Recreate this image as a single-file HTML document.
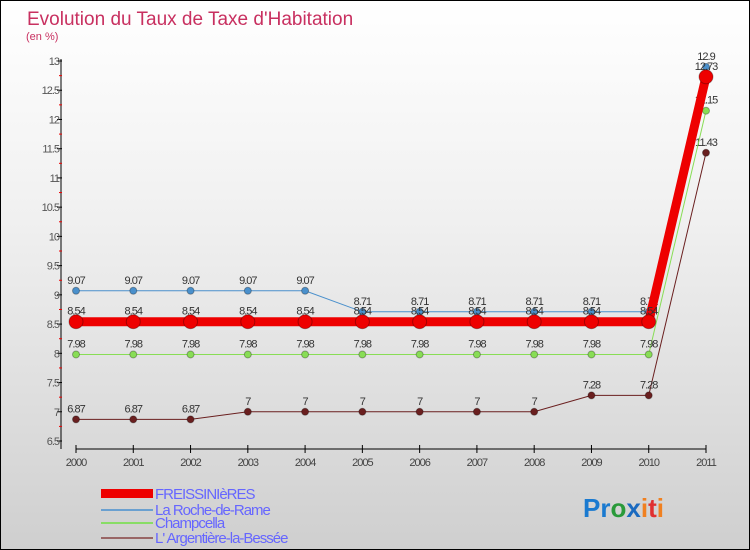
<!DOCTYPE html>
<html><head><meta charset="utf-8"><style>
body{margin:0}
#c{position:relative;width:748px;height:548px;border:1px solid #000;background:linear-gradient(#fff,#f0f0f0 40%,#cfcfcf);font-family:"Liberation Sans",sans-serif;overflow:hidden}
</style></head><body>
<div id="c">
<svg width="748" height="548" xmlns="http://www.w3.org/2000/svg" id="svg">
<text x="26" y="24" font-size="19" fill="#c83060">Evolution du Taux de Taxe d'Habitation</text>
<text x="25" y="39" font-size="11" fill="#c83060">(en %)</text>
<g id="axes"></g><g id="series"></g>
<g font-size="15" fill="#6666ff">
<rect x="100" y="488" width="52" height="9" fill="#e00"/>
<text x="154" y="498" letter-spacing="-1">FREISSINIèRES</text>
<rect x="100" y="508" width="52" height="2" fill="#6aa0d0"/>
<text x="154" y="514" letter-spacing="-1">La Roche-de-Rame</text>
<rect x="100" y="521" width="52" height="2" fill="#88dd66"/>
<text x="154" y="527" letter-spacing="-1">Champcella</text>
<rect x="100" y="536" width="52" height="2" fill="#996666"/>
<text x="154" y="542" letter-spacing="-1">L' Argentière-la-Bessée</text>
</g>
<text x="582" y="516" font-size="26" font-weight="bold"><tspan fill="#1a7ad0">Pr</tspan><tspan fill="#2a9a3a">o</tspan><tspan fill="#1a6ac0">x</tspan><tspan fill="#f08020">i</tspan><tspan fill="#e03030">t</tspan><tspan fill="#f08020">i</tspan></text>
</svg></div>
<script>
const years=[2000,2001,2002,2003,2004,2005,2006,2007,2008,2009,2010,2011];
const freiss=[8.54,8.54,8.54,8.54,8.54,8.54,8.54,8.54,8.54,8.54,8.54,12.73];
const roche=[9.07,9.07,9.07,9.07,9.07,8.71,8.71,8.71,8.71,8.71,8.71,12.9];
const champ=[7.98,7.98,7.98,7.98,7.98,7.98,7.98,7.98,7.98,7.98,7.98,12.15];
const argent=[6.87,6.87,6.87,7,7,7,7,7,7,7.28,7.28,11.43];
const yTicks=[6.5,7,7.5,8,8.5,9,9.5,10,10.5,11,11.5,12,12.5,13];
const NS="http://www.w3.org/2000/svg";
const X=i=>75+i*(630/11), Y=v=>60+(13-v)*(380/6.5);
function mk(t,a,p){const e=document.createElementNS(NS,t);for(const k in a)e.setAttribute(k,a[k]);p.appendChild(e);return e;}
const ax=document.getElementById('axes'), sg=document.getElementById('series');
let l=mk('line',{x1:60,y1:58,x2:60,y2:448,stroke:'#000'},ax);


l=mk('line',{x1:75,y1:448,x2:705,y2:448,stroke:'#000'},ax);


yTicks.forEach(v=>{const y=Y(v);mk('line',{x1:56,x2:61,y1:y,y2:y,stroke:'#000'},ax);
 if(v<13)mk('line',{x1:58,x2:61,y1:y-14.6,y2:y-14.6,stroke:'#e00'},ax);
 const t=mk('text',{x:58,y:y+4,'font-size':11,fill:'#555','text-anchor':'end','letter-spacing':'-1'},ax);t.textContent=String(v);
 
 });
years.forEach((yr,i)=>{const x=X(i);mk('line',{x1:x,x2:x,y1:444,y2:452,stroke:'#000'},ax);
 const t=mk('text',{x:x,y:465,'font-size':11,fill:'#444','text-anchor':'middle','letter-spacing':'-1'},ax);t.textContent=yr;
 
 });
function series(d,col,w,r,name,labels){const g=mk('g',{},sg);
 
 
 mk('polyline',{points:d.map((v,i)=>X(i)+','+Y(v)).join(' '),fill:'none',stroke:col,'stroke-width':w},g);
 d.forEach((v,i)=>{const c=mk('circle',{cx:X(i),cy:Y(v),r:r,fill:col,stroke:'rgba(0,0,0,0.3)'},g);
  
  
  if(labels){const t=mk('text',{x:X(i),y:Y(v)-7,'font-size':11,fill:'#333','text-anchor':'middle','letter-spacing':'-1'},g);t.textContent=String(v);}});}
series(argent,'#6a1f1f',1,3.5,'series-argentiere',true);
series(champ,'#88dd55',1,3.5,'series-champcella',true);
series(roche,'#4a90cc',1,3.5,'series-la-roche-de-rame',true);
series(freiss,'#ee0000',9,7,'series-freissinieres',true);
</script>
</body></html>
